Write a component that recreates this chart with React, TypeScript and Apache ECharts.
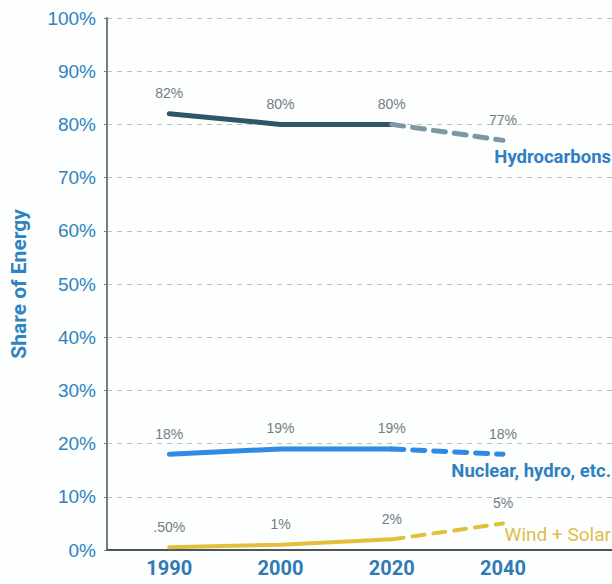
import React, { useEffect, useRef } from "react";
import * as echarts from "echarts";

// Years shown on the x axis; points sit at equal spacing (index positions)
const years = ["1990", "2000", "2020", "2040"];
const positions = [0, 1, 2, 3];

// Shares of energy (%)
const hydrocarbons = [82, 80, 80, 77];
const nuclear = [18, 19, 19, 18];
const windSolar = [0.5, 1, 2, 5];

// Value labels as printed
const hydrocarbonLabels = ["82%", "80%", "80%", "77%"];
const nuclearLabels = ["18%", "19%", "19%", "18%"];
const windSolarLabels = [".50%", "1%", "2%", "5%"];

const FONT = "Roboto, 'Noto Sans', sans-serif";
const SANS = "'Liberation Sans', Arial, sans-serif";

function lineSeries(
  values: number[],
  labels: string[],
  color: string,
  width: number,
  dashed: boolean,
  labelsOn: (i: number) => boolean,
) {
  const from = dashed ? 2 : 0;
  const to = dashed ? 3 : 2;
  const data: any[] = [];
  for (let i = from; i <= to; i++) {
    data.push({
      value: [positions[i], values[i]],
      label: { show: labelsOn(i), formatter: labels[i] },
    });
  }
  return {
    type: "line",
    data,
    symbol: "circle",
    symbolSize: 1,
    showSymbol: true,
    itemStyle: { color: "rgba(0,0,0,0)", borderWidth: 0 },
    smooth: false,
    lineStyle: {
      color,
      width,
      type: dashed ? [12, 9] : "solid",
      cap: "round",
    },
    label: {
      show: true,
      position: "top",
      distance: 13,
      color: "#6f7d87",
      fontSize: 14,
      fontFamily: SANS,
    },
    z: 5,
  };
}

export default function App() {
  const ref = useRef<HTMLDivElement>(null);

  useEffect(() => {
    if (!ref.current) return;
    const chart = echarts.init(ref.current, undefined, { renderer: "svg" });
    chart.setOption({
      animation: false,
      backgroundColor: "#fdfefe",
      grid: { left: 103, right: 0, top: 18, bottom: 34, containLabel: false },
      xAxis: {
        type: "value",
        min: -0.56,
        max: 3.98,
        axisLine: { show: true, onZero: false, lineStyle: { color: "#4f5659", width: 2 } },
        axisTick: { show: false },
        splitLine: { show: false },
        axisLabel: {
          customValues: positions,
          formatter: (v: number) => years[Math.round(v)] ?? "",
          color: "#2f7bb6",
          fontWeight: "bold",
          fontSize: 20,
          fontFamily: FONT,
          margin: 8,
        },
      },
      yAxis: {
        type: "value",
        min: 0,
        max: 100,
        interval: 10,
        name: "Share of Energy",
        nameLocation: "middle",
        nameGap: 78,
        nameTextStyle: {
          color: "#2f83c0",
          fontWeight: "bold",
          fontSize: 21,
          fontFamily: FONT,
        },
        axisLine: { show: true, onZero: false, lineStyle: { color: "#777d81", width: 2 } },
        axisTick: { show: true, inside: false, length: 3, lineStyle: { color: "#777d81" } },
        splitLine: {
          show: true,
          lineStyle: { color: "#b9bfc2", type: [5, 5], width: 1 },
        },
        axisLabel: {
          formatter: "{value}%",
          color: "#2f83c0",
          fontSize: 19,
          fontFamily: SANS,
          margin: 11,
        },
      },
      series: [
        lineSeries(hydrocarbons, hydrocarbonLabels, "#2f5667", 5, false, () => true),
        lineSeries(hydrocarbons, hydrocarbonLabels, "#7e97a3", 5, true, (i) => i === 3),
        lineSeries(nuclear, nuclearLabels, "#2d8be4", 5, false, () => true),
        lineSeries(nuclear, nuclearLabels, "#2d8be4", 5, true, (i) => i === 3),
        lineSeries(windSolar, windSolarLabels, "#e2c03c", 4, false, () => true),
        lineSeries(windSolar, windSolarLabels, "#e2c03c", 4, true, (i) => i === 3),
      ],
      graphic: [
        {
          type: "text",
          right: 1,
          top: 147,
          style: {
            text: "Hydrocarbons",
            fill: "#2f7fc2",
            fontSize: 18.5,
            fontWeight: "bold",
            fontFamily: FONT,
          },
        },
        {
          type: "text",
          right: 1,
          top: 461,
          style: {
            text: "Nuclear, hydro, etc.",
            fill: "#2f7fc2",
            fontSize: 18.5,
            fontWeight: "bold",
            fontFamily: FONT,
          },
        },
        {
          type: "text",
          right: 1,
          top: 525,
          style: {
            text: "Wind + Solar",
            fill: "#dcc04a",
            fontSize: 19,
            fontFamily: FONT,
          },
        },
      ],
    });
    return () => chart.dispose();
  }, []);

  return (
    <div
      ref={ref}
      style={{ position: "absolute", left: 0, top: 0, width: 612, height: 584 }}
    />
  );
}
